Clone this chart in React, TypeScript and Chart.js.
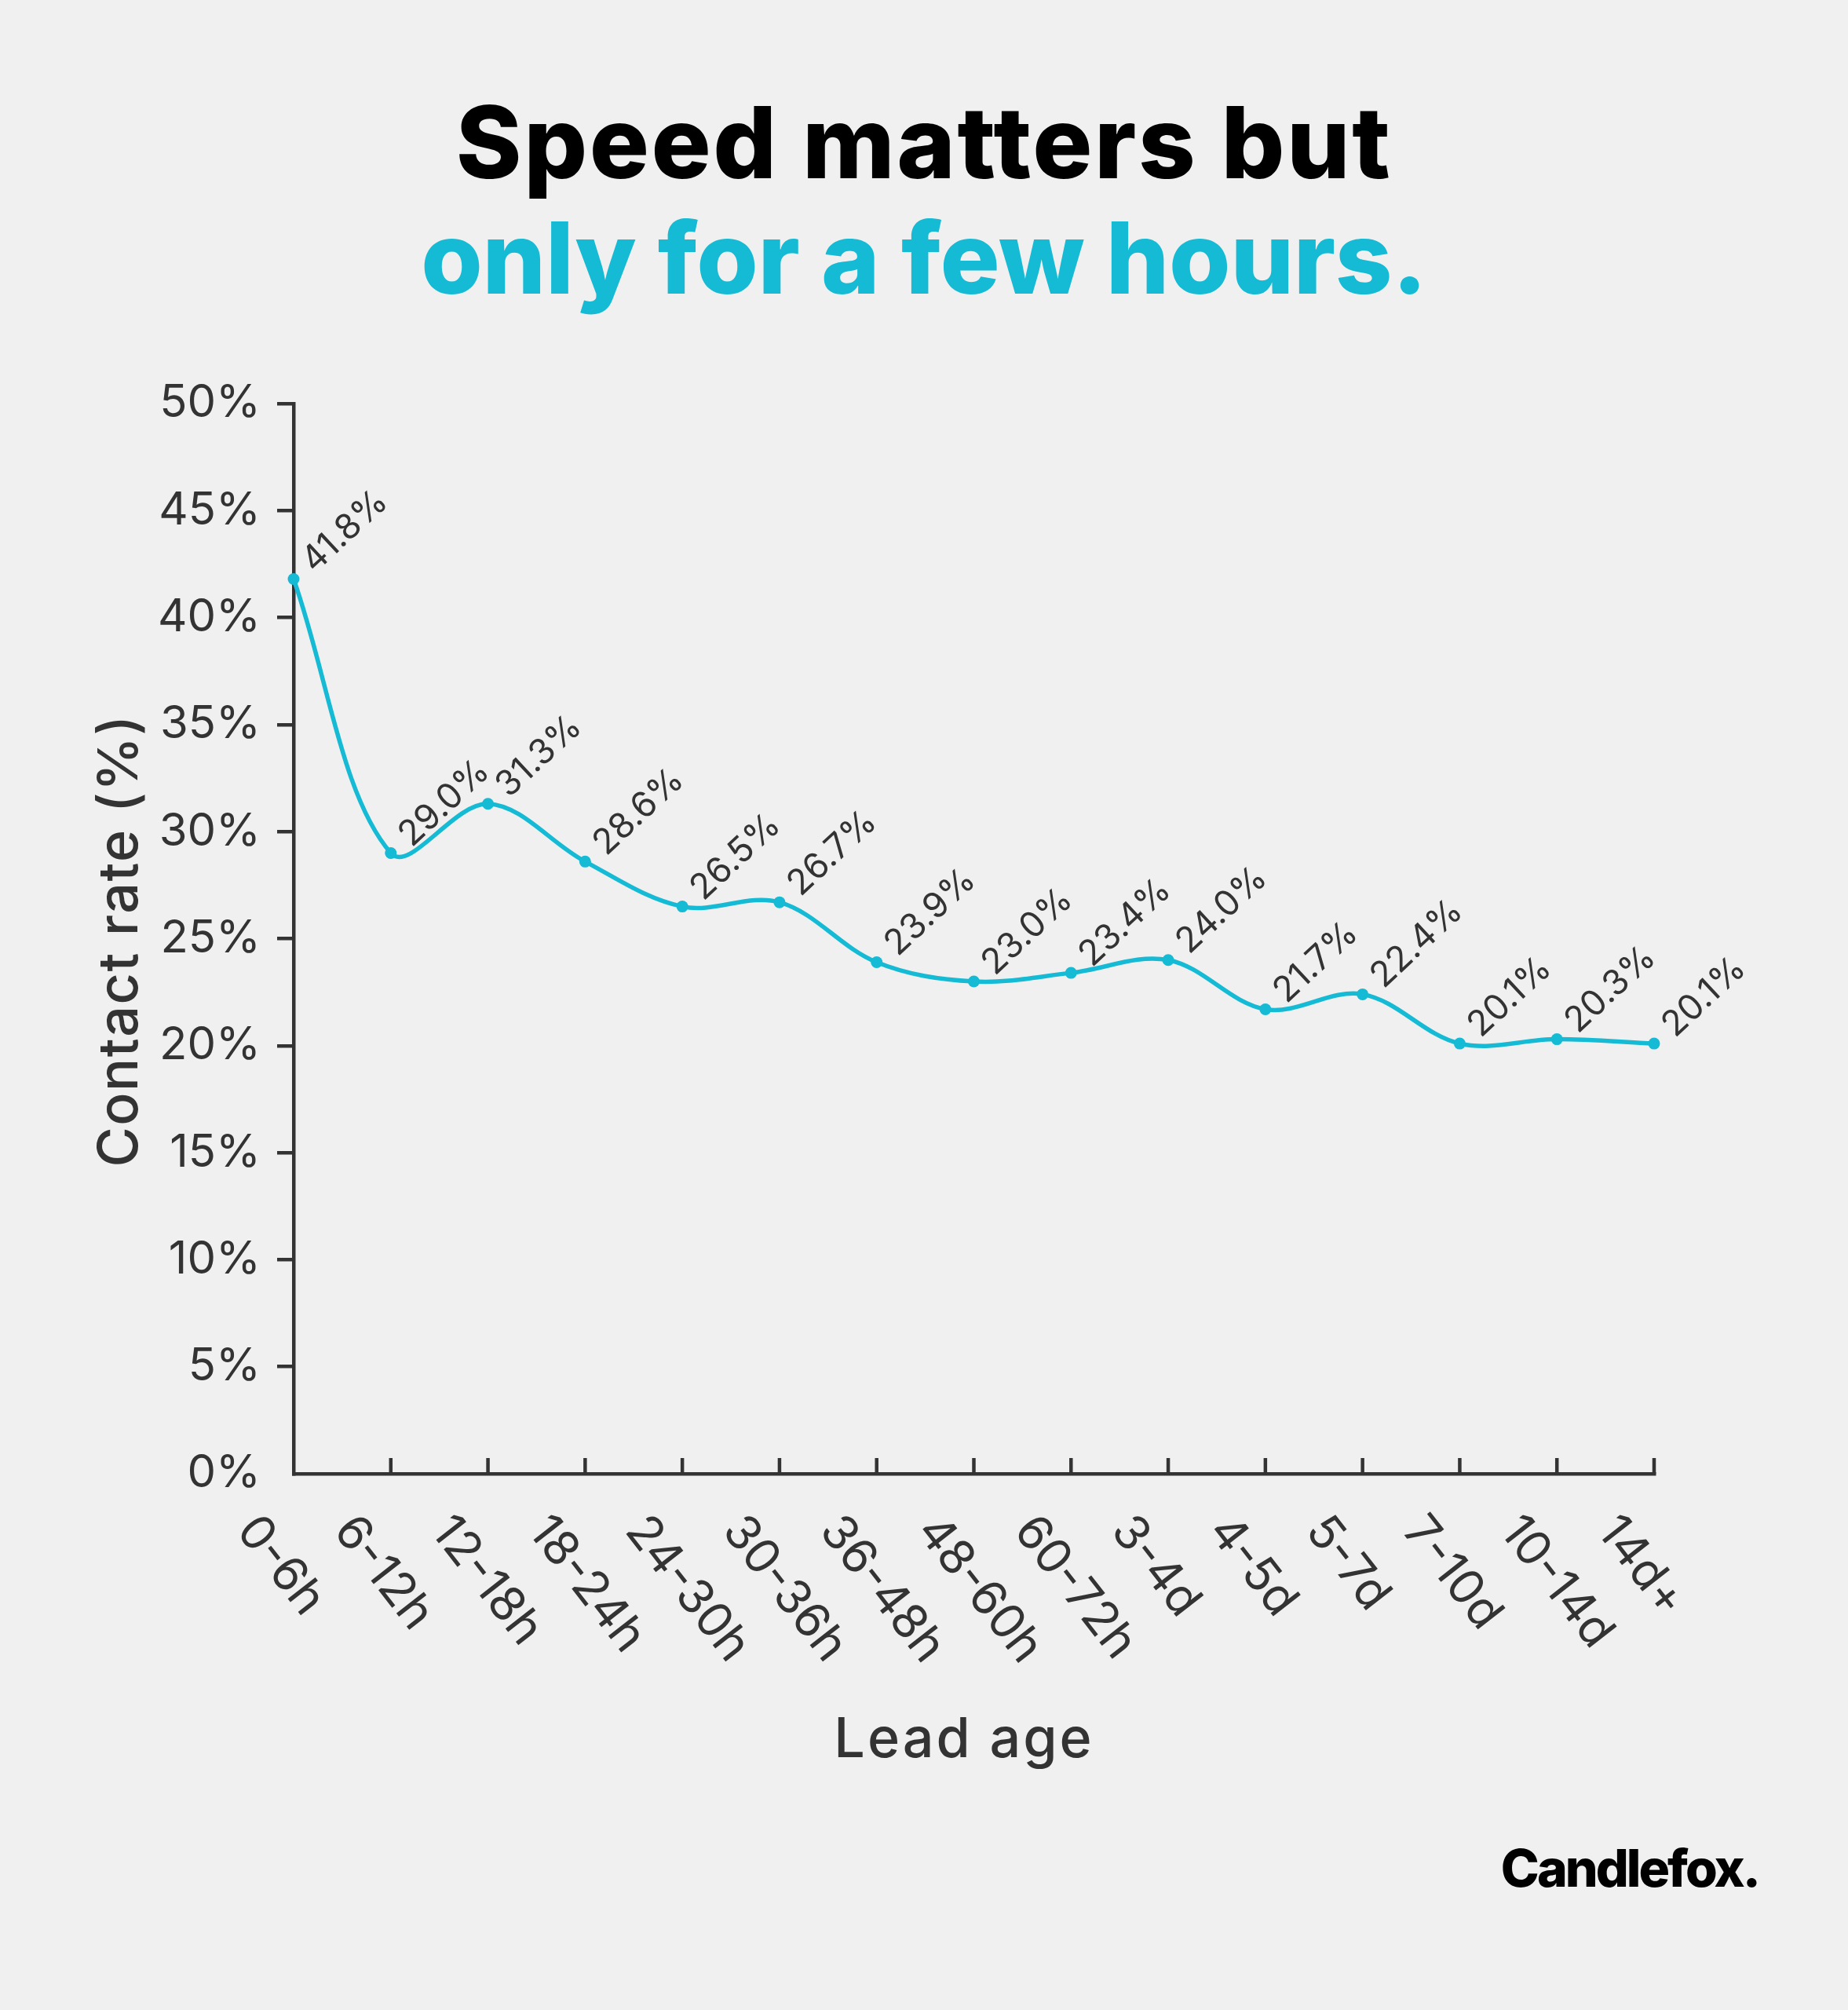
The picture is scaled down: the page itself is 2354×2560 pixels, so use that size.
import React, { useEffect, useRef } from "react";
import { Chart, registerables } from "chart.js";

Chart.register(...registerables);

// data
const leadAges = [
  "0-6h",
  "6-12h",
  "12-18h",
  "18-24h",
  "24-30h",
  "30-36h",
  "36-48h",
  "48-60h",
  "60-72h",
  "3-4d",
  "4-5d",
  "5-7d",
  "7-10d",
  "10-14d",
  "14d+",
];
const contactRates = [
  41.8, 29.0, 31.3, 28.6, 26.5, 26.7, 23.9, 23.0, 23.4, 24.0, 21.7, 22.4, 20.1,
  20.3, 20.1,
];
const yMin = 0;
const yMax = 50;
const yStep = 5;

const INK = "#333333";
const CYAN = "#15BAD4";
const FONT = "Inter, 'Noto Sans', sans-serif";

const rad = (d: number) => (d * Math.PI) / 180;

// x ticks point up into the plot, labels run down-right from the tick
const xAxisPlugin = {
  id: "xAxisDecor",
  beforeDatasetsDraw(c: any) {
    const { ctx, chartArea, scales } = c;
    const x = scales.x;
    ctx.save();
    ctx.strokeStyle = INK;
    ctx.lineWidth = 4.5;
    leadAges.forEach((_, i) => {
      if (i === 0) return;
      const px = x.getPixelForValue(i);
      ctx.beginPath();
      ctx.moveTo(px, chartArea.bottom);
      ctx.lineTo(px, chartArea.bottom - 20);
      ctx.stroke();
    });
    ctx.fillStyle = INK;
    ctx.font = `400 61px ${FONT}`;
    ctx.textAlign = "left";
    ctx.textBaseline = "middle";
    leadAges.forEach((label, i) => {
      const px = x.getPixelForValue(i);
      ctx.save();
      ctx.translate(px - 60, chartArea.bottom + 62);
      ctx.rotate(rad(52));
      ctx.fillText(label, 0, 0);
      ctx.restore();
    });
    ctx.restore();
  },
};

// rotated value labels next to each point
const valueLabelPlugin = {
  id: "valueLabels",
  afterDatasetsDraw(c: any) {
    const { ctx } = c;
    const meta = c.getDatasetMeta(0);
    ctx.save();
    ctx.fillStyle = INK;
    ctx.font = `400 45px ${FONT}`;
    ctx.textAlign = "left";
    ctx.textBaseline = "middle";
    meta.data.forEach((pt: any, i: number) => {
      ctx.save();
      ctx.translate(pt.x, pt.y);
      ctx.rotate(rad(-43));
      ctx.fillText(contactRates[i].toFixed(1) + "%", 24, 0);
      ctx.restore();
    });
    ctx.restore();
  },
};

const LineChart = () => {
  const canvas = useRef<HTMLCanvasElement>(null);

  useEffect(() => {
    const chart = new Chart(canvas.current!, {
      type: "line",
      data: {
        labels: leadAges,
        datasets: [
          {
            data: contactRates,
            borderColor: CYAN,
            backgroundColor: CYAN,
            borderWidth: 5.5,
            pointRadius: 7.5,
            pointBackgroundColor: CYAN,
            pointBorderWidth: 0,
            tension: 0.35,
            clip: false as any,
          },
        ],
      },
      options: {
        responsive: false,
        animation: false,
        devicePixelRatio: 1,
        layout: {
          padding: { top: 514, bottom: 683, left: 0, right: 247 },
        },
        plugins: {
          legend: { display: false },
          tooltip: { enabled: false },
        },
        scales: {
          x: {
            type: "category",
            offset: false,
            ticks: { display: false },
            grid: { display: true, drawOnChartArea: false, drawTicks: false, lineWidth: 4.5 },
            border: { display: true, color: INK, width: 4.5 },
            afterFit: (s: any) => {
              s.height = 0;
            },
          },
          y: {
            min: yMin,
            max: yMax,
            ticks: {
              stepSize: yStep,
              color: INK,
              padding: 21,
              font: { family: FONT, size: 58, weight: 400 as any },
              callback: (v: any) => `${v}%`,
            },
            grid: {
              drawOnChartArea: false,
              drawTicks: true,
              tickLength: 21,
              lineWidth: 4.5,
              color: (ctx: any) =>
                ctx.tick && ctx.tick.value === 0 ? "rgba(0,0,0,0)" : INK,
            },
            border: { display: true, color: INK, width: 4.5 },
            afterFit: (s: any) => {
              s.width = 374;
            },
          },
        },
      },
      plugins: [xAxisPlugin, valueLabelPlugin],
    });
    return () => chart.destroy();
  }, []);

  return (
    <canvas
      ref={canvas}
      width={2354}
      height={2560}
      style={{ position: "absolute", left: 0, top: 0 }}
    ></canvas>
  );
};

export default function App() {
  useEffect(() => {
    document.body.style.margin = "0";
    document.body.style.background = "#f0f0f0";
  }, []);

  const abs: React.CSSProperties = {
    position: "absolute",
    whiteSpace: "nowrap",
    fontFamily: FONT,
    lineHeight: 1,
  };

  return (
    <div
      style={{
        position: "relative",
        width: 2354,
        height: 2560,
        background: "#f0f0f0",
        overflow: "hidden",
      }}
    >
      <LineChart />
      <div
        style={{
          ...abs,
          left: 0,
          width: 2354,
          textAlign: "center",
          top: 118,
          fontSize: 127,
          fontWeight: 800,
          color: "#000",
          letterSpacing: 2.5,
        }}
      >
        Speed matters but
      </div>
      <div
        style={{
          ...abs,
          left: 0,
          width: 2354,
          textAlign: "center",
          top: 265,
          fontSize: 127,
          fontWeight: 800,
          color: CYAN,
          letterSpacing: -0.3,
        }}
      >
        only for a few hours.
      </div>
      <div
        style={{
          ...abs,
          left: 150 - 400,
          top: 1198 - 35,
          width: 800,
          height: 70,
          textAlign: "center",
          fontSize: 70,
          fontWeight: 500,
          color: INK,
          letterSpacing: 1.5,
          transform: "rotate(-90deg)",
        }}
      >
        Contact rate (%)
      </div>
      <div
        style={{
          ...abs,
          left: 1228 - 400,
          width: 800,
          textAlign: "center",
          top: 2178,
          fontSize: 70,
          fontWeight: 500,
          color: INK,
          letterSpacing: 3,
        }}
      >
        Lead age
      </div>
      <div
        style={{
          ...abs,
          right: 114,
          top: 2346,
          fontSize: 66,
          fontWeight: 800,
          color: "#000",
          letterSpacing: -3,
        }}
      >
        Candlefox.
      </div>
    </div>
  );
}
